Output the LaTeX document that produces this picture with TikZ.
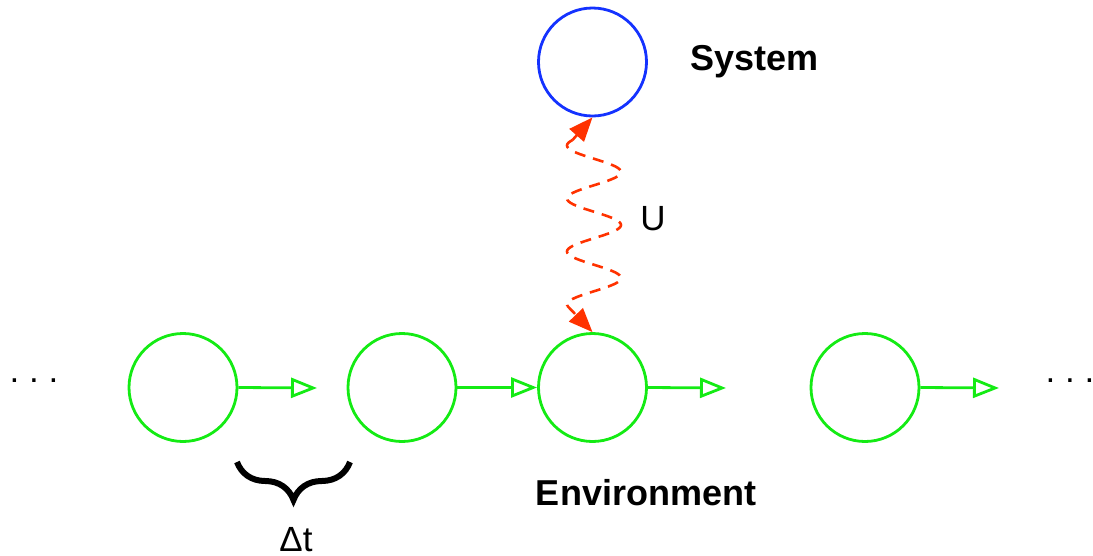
\documentclass[tikz,border=0pt]{standalone}
\usepackage{fontspec}
\setmainfont{Liberation Sans}
\usetikzlibrary{arrows.meta,decorations.pathreplacing}
\definecolor{sysblue}{RGB}{20,50,255}
\definecolor{envgreen}{RGB}{20,235,20}
\definecolor{wavered}{RGB}{255,50,0}
\tikzset{
  sysnode/.style={circle,draw=sysblue,line width=2.8pt,minimum size=108pt,inner sep=0pt},
  envnode/.style={circle,draw=envgreen,line width=2.8pt,minimum size=108pt,inner sep=0pt},
  stepline/.style={draw=envgreen,line width=2.8pt,-{Triangle[open,length=26pt,width=20pt]}},
  waveline/.style={draw=wavered,line width=2.6pt,dash pattern=on 11pt off 8pt},
  wavetip/.style={draw=wavered,line width=2.6pt,dash pattern=on 11pt off 8pt,-{Triangle[length=24pt,width=19pt]}},
  boldlabel/.style={font=\fontsize{36}{42}\selectfont\bfseries,anchor=base,inner sep=0pt},
  plainlabel/.style={font=\fontsize{35}{42}\selectfont,anchor=base,inner sep=0pt},
}
\begin{document}
\begin{tikzpicture}[x=1pt,y=-1pt]
\useasboundingbox (0,0) rectangle (1093,555);
% nodes
\node[sysnode] (sys) at (592.5,62) {};
\node[envnode] (e1) at (183,387.5) {};
\node[envnode] (e2) at (402,387.5) {};
\node[envnode] (e3) at (592.5,387.5) {};
\node[envnode] (e4) at (865,387.5) {};
% labels
\node[boldlabel] (systxt) at (754.5,70) {System};
\node[boldlabel] (envtxt) at (646,505) {Environment};
\node[plainlabel] (utxt) at (653,230) {U};
\node[plainlabel] (dttxt) at (296,551) {Δt};
\node[plainlabel] (dotsl) at (34,382) {.\hspace{0.28em}.\hspace{0.28em}.};
\node[plainlabel] (dotsr) at (1070,382) {.\hspace{0.28em}.\hspace{0.28em}.};
% free ends
\coordinate (a1) at (317,388);
\coordinate (a3) at (726,388);
\coordinate (a4) at (999,388);
% green steps
\draw[stepline] (e1.east) -- (a1);
\draw[stepline] (e2.east) -- (e3.west);
\draw[stepline] (e3.east) -- (a3);
\draw[stepline] (e4.east) -- (a4);
% wave
\coordinate (wtop) at ({594-27*cos((140-145.5)*6.7925)},140);
\coordinate (wbot) at ({594-27*cos((306-145.5)*6.7925)},306);
\draw[waveline] plot[domain=140:306,samples=120,smooth] ({594-27*cos((\x-145.5)*6.7925)},\x);
\draw[wavetip] (wtop) -- (sys.south);
\draw[wavetip] (wbot) -- (e3.north);
% brace
\coordinate (bl) at (237,462);
\coordinate (br) at (350,462);
\draw[line width=6pt,decorate,decoration={brace,mirror,amplitude=38pt,aspect=0.5}] (bl) -- (br);
\end{tikzpicture}
\end{document}
